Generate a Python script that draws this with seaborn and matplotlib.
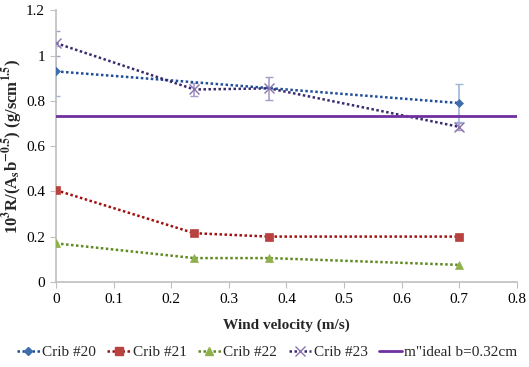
from matplotlib import pyplot as plt
from matplotlib.lines import Line2D
import seaborn as sns
import pandas as pd
import numpy as np

sns.set_style("white")
plt.rcParams['font.family'] = ['Liberation Serif', 'DejaVu Serif']
plt.rcParams['mathtext.fontset'] = 'stix'

# data
x20 = [0, 0.7]
y20 = [0.93, 0.79]
e20 = [0.11, 0.085]

x21 = [0, 0.24, 0.37, 0.7]
y21 = [0.405, 0.215, 0.2, 0.2]

x22 = [0, 0.24, 0.37, 0.7]
y22 = [0.17, 0.105, 0.105, 0.075]

x23 = [0, 0.24, 0.37, 0.7]
y23 = [1.055, 0.85, 0.855, 0.685]
e23 = [0.055, 0.03, 0.05, 0.015]

ideal_x = [0, 0.8]
ideal_y = [0.735, 0.735]

series = [
    ("Crib #20", x20, y20, e20, "#1F4E99", "#3E6EAE", "D", 4.5),
    ("Crib #21", x21, y21, None, "#A01010", "#B8423F", "s", 6),
    ("Crib #22", x22, y22, None, "#5E8A1E", "#8FB04B", "^", 6),
    ("Crib #23", x23, y23, e23, "#3A2A6E", "#8A74B0", "x", 6.5),
]

fig, ax = plt.subplots(figsize=(5.29, 3.67), dpi=100)

handles = []
for name, xs, ys, errs, lc, mc, mk, ms in series:
    df = pd.DataFrame({"x": xs, "y": ys})
    if errs is not None:
        ax.errorbar(xs, ys, yerr=errs, fmt="none", ecolor="#9DB6DA" if name == "Crib #20" else "#A99CC8",
                    elinewidth=1.2, capsize=3, zorder=2)
    sns.lineplot(data=df, x="x", y="y", ax=ax, color=lc, linestyle=(0, (1, 1)), linewidth=1.8,
                 marker=mk, markersize=ms, markerfacecolor=mc, markeredgecolor=mc,
                 markeredgewidth=1 if mk == "x" else 0.5, zorder=3)
    handles.append(Line2D([], [], color=lc, linestyle=(0, (1, 1)), linewidth=1.8, marker=mk,
                          markersize=ms, markerfacecolor=mc, markeredgecolor=mc))

sns.lineplot(x=ideal_x, y=ideal_y, ax=ax, color="#7030A0", linewidth=2, zorder=3)
handles.append(Line2D([], [], color="#7030A0", linewidth=2))

ax.set_xlim(0, 0.8)
ax.set_ylim(0, 1.2)
ax.set_xticks(np.arange(0, 0.81, 0.1))
ax.set_xticklabels(["0", "0.1", "0.2", "0.3", "0.4", "0.5", "0.6", "0.7", "0.8"])
ax.set_yticks(np.arange(0, 1.21, 0.2))
ax.set_yticklabels(["0", "0.2", "0.4", "0.6", "0.8", "1", "1.2"])
ax.tick_params(axis="both", labelsize=11, colors="black", length=4, direction="out",
               color="#BFBFBF", bottom=True, left=True, pad=4)
for s in ["top", "right"]:
    ax.spines[s].set_visible(False)
for s in ["left", "bottom"]:
    ax.spines[s].set_color("#BFBFBF")
    ax.spines[s].set_linewidth(1.2)

ax.set_xlabel("Wind velocity (m/s)", fontsize=11, fontweight="bold", labelpad=9)
ax.set_ylabel(r"10$^{\mathbf{3}}$R/(A$_{\mathbf{s}}$b$^{\mathbf{-0.5}}$) (g/scm$^{\mathbf{1.5}}$)",
              fontsize=12, fontweight="bold", labelpad=1)

fig.legend(handles, ["Crib #20", "Crib #21", "Crib #22", "Crib #23", "m\"ideal b=0.32cm"],
           loc="center", bbox_to_anchor=(0.505, 0.04), ncol=5, frameon=False,
           fontsize=11, handlelength=1.5, handletextpad=0.15, columnspacing=0.75)

fig.subplots_adjust(left=0.106, right=0.977, top=0.972, bottom=0.232)
fig.savefig("out.png", dpi=100)
